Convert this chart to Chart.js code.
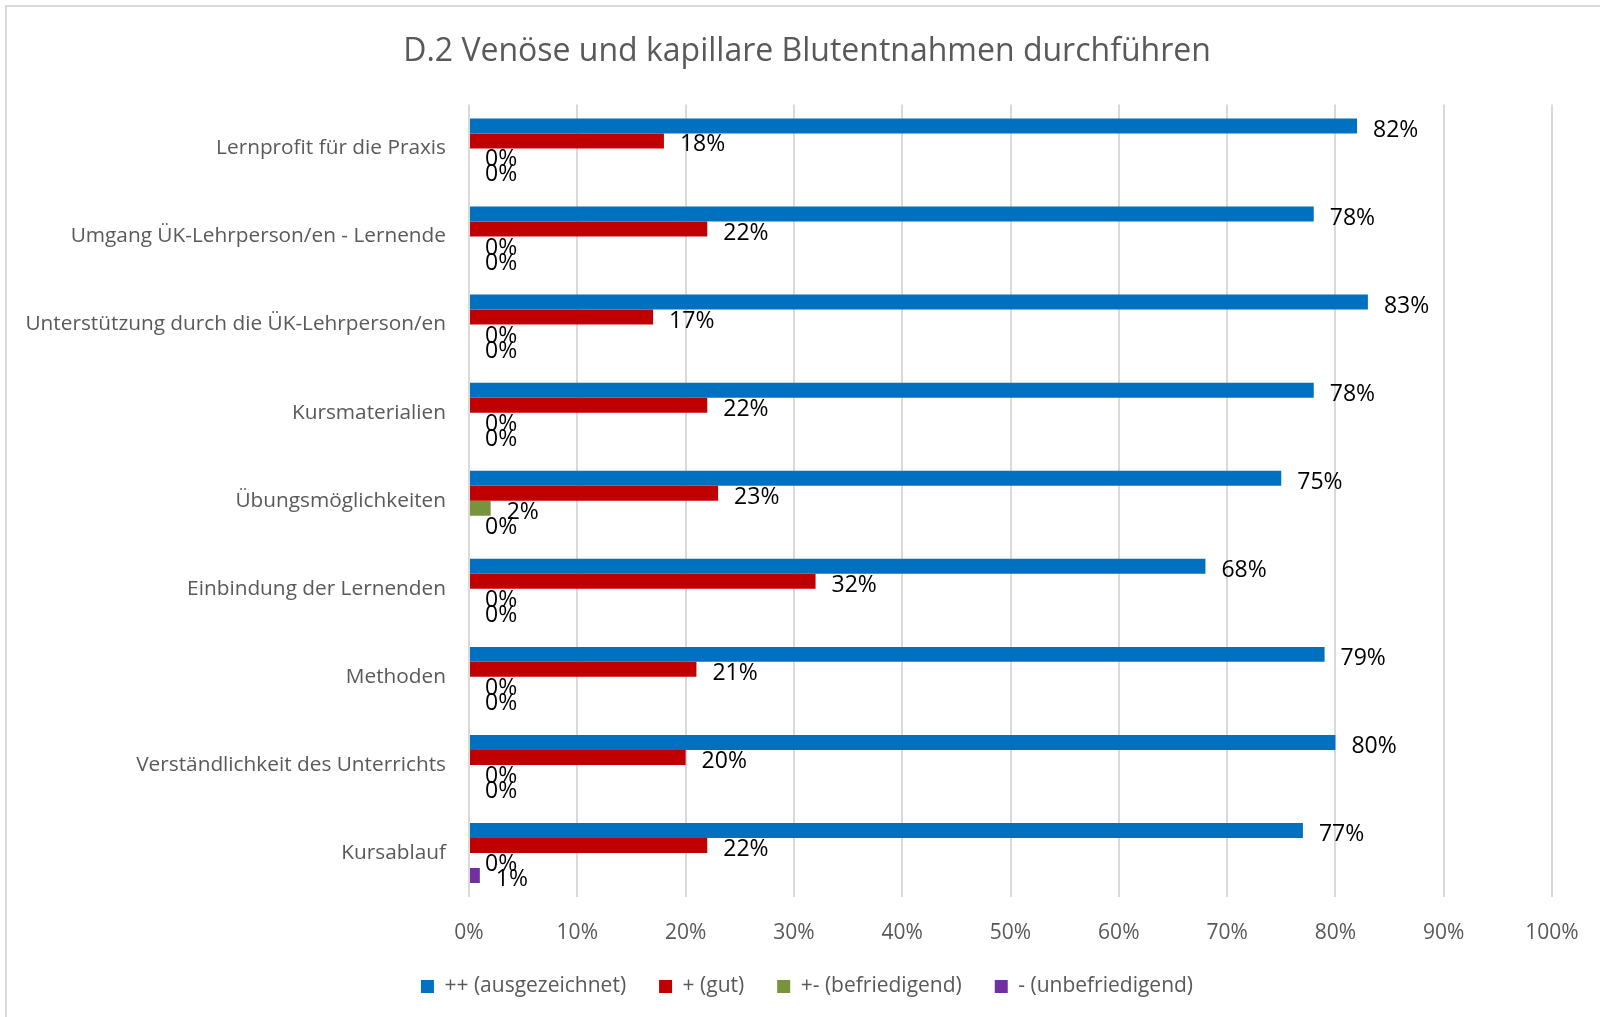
<!DOCTYPE html>
<html lang="de">
<head>
<meta charset="utf-8">
<title>D.2 Venöse und kapillare Blutentnahmen durchführen</title>
<script src="https://cdn.jsdelivr.net/npm/chart.js@4.4.1/dist/chart.umd.min.js"></script>
<style>
    html, body { margin: 0; padding: 0; background: #fff; }
    #wrap { position: relative; width: 1600px; height: 1017px; }
</style>
</head>
<body>
<div id="wrap"><canvas id="chart-bluten" width="1600" height="1017"></canvas></div>
<script>
// Kategorien (von oben nach unten)
const kategorien = [
    'Lernprofit für die Praxis',
    'Umgang ÜK-Lehrperson/en - Lernende',
    'Unterstützung durch die ÜK-Lehrperson/en',
    'Kursmaterialien',
    'Übungsmöglichkeiten',
    'Einbindung der Lernenden',
    'Methoden',
    'Verständlichkeit des Unterrichts',
    'Kursablauf'
];

// Werte in Prozent
const ausgezeichnet = [82, 78, 83, 78, 75, 68, 79, 80, 77];
const gut = [18, 22, 17, 22, 23, 32, 21, 20, 22];
const befriedigend = [0, 0, 0, 0, 2, 0, 0, 0, 0];
const unbefriedigend = [0, 0, 0, 0, 0, 0, 0, 0, 1];

const serien = ['++ (ausgezeichnet)', '+ (gut)', '+- (befriedigend)', '- (unbefriedigend)'];
const farben = ['#0070C0', '#C00000', '#77933C', '#7030A0'];

const schrift = '"Open Sans", "Noto Sans", sans-serif';

// Werte rechts neben den Balken
const wertLabels = {
    id: 'wertLabels',
    afterDatasetsDraw(chart) {
        const ctx = chart.ctx;
        ctx.save();
        ctx.font = '23px ' + schrift;
        ctx.fillStyle = '#000';
        ctx.textAlign = 'left';
        ctx.textBaseline = 'middle';
        chart.data.datasets.forEach((ds, i) => {
            const meta = chart.getDatasetMeta(i);
            meta.data.forEach((bar, j) => {
                ctx.fillText(ds.data[j] + '%', bar.x + 16, bar.y + 4);
            });
        });
        ctx.restore();
    }
};

// Rahmen oben und links
const rahmen = {
    id: 'rahmen',
    beforeDraw(chart) {
        const ctx = chart.ctx;
        ctx.save();
        ctx.fillStyle = '#fff';
        ctx.fillRect(0, 0, chart.width, chart.height);
        ctx.strokeStyle = '#d9d9d9';
        ctx.lineWidth = 2;
        ctx.beginPath();
        ctx.moveTo(6, chart.height);
        ctx.lineTo(6, 6);
        ctx.lineTo(chart.width, 6);
        ctx.stroke();
        ctx.restore();
    }
};

const ctx = document.getElementById('chart-bluten').getContext('2d');

new Chart(ctx, {
    type: 'bar',
    data: {
        labels: kategorien,
        datasets: [
            { label: serien[0], data: ausgezeichnet, backgroundColor: farben[0] },
            { label: serien[1], data: gut, backgroundColor: farben[1] },
            { label: serien[2], data: befriedigend, backgroundColor: farben[2] },
            { label: serien[3], data: unbefriedigend, backgroundColor: farben[3] }
        ]
    },
    options: {
        indexAxis: 'y',
        responsive: false,
        animation: false,
        datasets: {
            bar: { categoryPercentage: 0.68, barPercentage: 1, borderWidth: 0 }
        },
        layout: { padding: { left: 14, right: 0, top: 0, bottom: 10 } },
        scales: {
            x: {
                min: 0,
                max: 100,
                ticks: {
                    stepSize: 10,
                    color: '#595959',
                    font: { family: schrift, size: 21, lineHeight: 2.0 },
                    padding: 15,
                    callback: v => v + '%'
                },
                grid: { color: '#d9d9d9', lineWidth: 2, drawTicks: false },
                border: { display: false },
                afterFit(scale) { scale.height = 46; }
            },
            y: {
                ticks: {
                    color: '#595959',
                    font: { family: schrift, size: 20.8 },
                    padding: 23
                },
                grid: { display: false, drawTicks: false },
                border: { display: false },
                afterFit(scale) { scale.width = 455; }
            },
            // leerer Rand rechts neben dem Diagramm
            rand: {
                type: 'linear',
                position: 'right',
                ticks: { display: false },
                grid: { display: false, drawTicks: false },
                border: { display: false },
                afterFit(scale) { scale.width = 48; }
            }
        },
        plugins: {
            title: {
                display: true,
                text: 'D.2 Venöse und kapillare Blutentnahmen durchführen',
                color: '#595959',
                font: { family: schrift, size: 32, weight: 'normal' },
                padding: { top: 33, bottom: 33 }
            },
            legend: {
                display: true,
                position: 'bottom',
                labels: {
                    color: '#595959',
                    font: { family: schrift, size: 21 },
                    boxWidth: 13,
                    boxHeight: 13,
                    padding: 33
                }
            },
            tooltip: { enabled: false }
        }
    },
    plugins: [rahmen, wertLabels]
});
</script>
</body>
</html>
